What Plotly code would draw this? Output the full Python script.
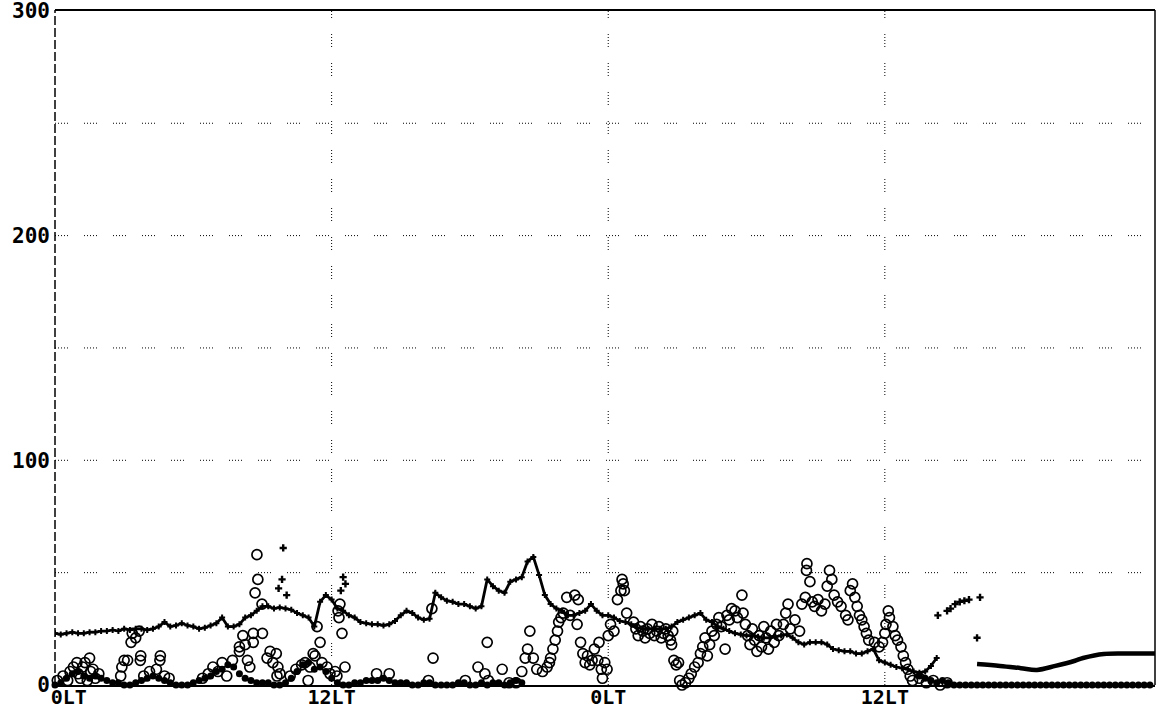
import plotly.graph_objects as go

# ---- time axis: hours after the first 0 LT, sampled every 15 minutes ----
STEP_H = 0.25

# "+" series: continuous record, 0 LT .. ~38 h (one row per hour, 4 samples each)
cross_values = [
    23, 22.5, 23, 23.5,     # 0 h
    23, 23, 23.5, 23.5,     # 1 h
    24, 24, 24.5, 24,       # 2 h
    25, 24.5, 25, 25,       # 3 h
    24.5, 25, 26, 28,       # 4 h
    26, 26.5, 27.5, 26.5,   # 5 h
    26, 25, 25.5, 26.5,     # 6 h
    27.5, 30, 26, 26,       # 7 h
    27, 30, 31, 33,         # 8 h
    35, 35, 34, 34.5,       # 9 h
    34, 33.5, 32, 31,       # 10 h
    30, 26, 37, 40,         # 11 h
    38, 34, 33, 31,         # 12 h
    30, 28, 27.5, 27,       # 13 h
    27, 26.5, 27, 28.5,     # 14 h
    31, 33, 32, 30,         # 15 h
    29, 29.5, 41, 39,       # 16 h
    37.5, 37, 36, 36,       # 17 h
    35, 34, 35, 47,         # 18 h
    44, 42, 41, 46,         # 19 h
    47, 48, 55, 57,         # 20 h
    49, 40, 36, 34,         # 21 h
    33, 31, 31, 32,         # 22 h
    33, 36, 33, 31,         # 23 h
    31, 30, 28.5, 28,       # 24 h
    27, 25.5, 25, 25,       # 25 h
    25, 25, 25, 26,         # 26 h
    28, 29, 30, 31,         # 27 h
    32, 29, 28, 26,         # 28 h
    25, 24, 23, 22.5,       # 29 h
    22, 22, 21.5, 21,       # 30 h
    21, 21.5, 22, 22.5,     # 31 h
    21, 19, 18, 19,         # 32 h
    19, 19, 18, 16,         # 33 h
    15.5, 15, 15, 14,       # 34 h
    14, 15, 16, 11,         # 35 h
    10, 9, 8, 7.5,          # 36 h
    7, 6, 5.5, 6,           # 37 h
    8.5, 12,                # 38 h
]
cross_hours = [i * STEP_H for i in range(len(cross_values))]

# isolated "+" samples off the main trace
cross_extra_hours = [9.7, 9.85, 9.9, 10.05, 12.4, 12.5, 12.6,
                     38.3, 38.7, 38.85, 39.05, 39.25, 39.45, 39.65, 40.0, 40.13]
cross_extra_values = [43, 47, 61, 40, 42, 48, 45,
                      31, 33, 34, 36, 37, 37.5, 38, 21, 39]

# smoothed tail after the record ends
tail_hours = [40.0, 41.0, 41.9, 42.6, 43.4, 44.25, 44.6, 45.5, 46.6, 47.6, 47.72]
tail_values = [9.3, 8.5, 7.5, 6.7, 8.5, 10.8, 12, 13.8, 14, 14, 14]

# "o" series, first day (hour, value)
circles_day1 = [
    (0.1, 2), (0.35, 4), (0.55, 2), (0.65, 6), (0.8, 8), (0.95, 10), (1.0, 5),
    (1.1, 3), (1.2, 8), (1.3, 10), (1.4, 2), (1.5, 12), (1.55, 6), (1.65, 7),
    (1.75, 3), (1.9, 5),
    (2.85, 4), (2.9, 8), (3.0, 11), (3.15, 11), (3.3, 19), (3.35, 23), (3.5, 21),
    (3.65, 24), (3.7, 11), (3.72, 13), (3.85, 4), (4.1, 6), (4.4, 7), (4.55, 11),
    (4.57, 13), (4.75, 4), (4.95, 3),
    (6.4, 3), (6.65, 5), (6.85, 8), (7.07, 6), (7.25, 10), (7.45, 4), (7.7, 11),
    (8.0, 15), (8.0, 17), (8.15, 22), (8.25, 18), (8.35, 11), (8.45, 8),
    (8.6, 19), (8.6, 23),
    (8.68, 41), (8.76, 58), (8.8, 47), (8.98, 36), (9.0, 23), (9.2, 12),
    (9.33, 15), (9.45, 10), (9.6, 14), (9.63, 4), (9.67, 8), (9.76, 5),
    (10.2, 4), (10.45, 7), (10.7, 9), (10.85, 10), (10.98, 2), (11.06, 8),
    (11.2, 14), (11.28, 13), (11.37, 26), (11.5, 19), (11.58, 10), (11.8, 8),
    (11.93, 5), (12.15, 6), (12.23, 4), (12.28, 33), (12.32, 30), (12.36, 36),
    (12.45, 23), (12.58, 8),
    (13.95, 5), (14.5, 5),
    (16.2, 2), (16.35, 34), (16.4, 12), (17.8, 2), (18.35, 8), (18.65, 5),
    (18.75, 19), (18.8, 2), (19.4, 7), (19.7, 1), (20.0, 1), (20.25, 6),
    (20.4, 12), (20.5, 16), (20.6, 24), (20.75, 12), (20.9, 7), (21.15, 6),
    (21.35, 8), (21.45, 10), (21.5, 12), (21.6, 16), (21.7, 20), (21.8, 24),
    (21.85, 28), (21.95, 30), (22.05, 32), (22.2, 39), (22.35, 31), (22.55, 40),
    (22.65, 27), (22.7, 38), (22.8, 19), (22.9, 14), (23.0, 10), (23.1, 13),
    (23.2, 9), (23.3, 11), (23.4, 16), (23.55, 11), (23.6, 19), (23.7, 7),
    (23.75, 3), (23.85, 10), (23.95, 7),
]

# "o" series, second day (hour, value)
circles_day2 = [
    (24.0, 22), (24.1, 27), (24.25, 24), (24.4, 38), (24.55, 42), (24.6, 47),
    (24.65, 45), (24.7, 42), (24.8, 32),
    (25.1, 28), (25.2, 25), (25.3, 22), (25.4, 26), (25.5, 24), (25.6, 21),
    (25.7, 25), (25.8, 23), (25.9, 27), (26.0, 22), (26.1, 24), (26.2, 26),
    (26.3, 21), (26.4, 23), (26.5, 25), (26.6, 22), (26.7, 20), (26.75, 18),
    (26.8, 24), (26.85, 11), (26.95, 9), (27.05, 10),
    (27.1, 2), (27.2, 0), (27.35, 1), (27.5, 3), (27.6, 5), (27.75, 8),
    (27.9, 10), (28.0, 14), (28.1, 17), (28.2, 21), (28.3, 13), (28.4, 18),
    (28.5, 24), (28.6, 22), (28.7, 27), (28.8, 30), (28.9, 26), (29.07, 16),
    (29.15, 31), (29.25, 29), (29.35, 34), (29.5, 33), (29.6, 30), (29.8, 40),
    (29.85, 32), (29.95, 27), (30.05, 22), (30.15, 18), (30.25, 25), (30.35, 20),
    (30.45, 15), (30.55, 22), (30.65, 17), (30.75, 26), (30.85, 21), (30.95, 16),
    (31.05, 24), (31.2, 19), (31.3, 27), (31.4, 22),
    (31.6, 27), (31.7, 32), (31.8, 36), (31.9, 25), (32.1, 29), (32.3, 24),
    (32.4, 36), (32.55, 39), (32.6, 51), (32.62, 54), (32.75, 46), (32.85, 37),
    (32.95, 35), (33.1, 38), (33.25, 33), (33.4, 36), (33.5, 44), (33.6, 51),
    (33.7, 47), (33.8, 40), (33.95, 37), (34.1, 35), (34.3, 31), (34.4, 29),
    (34.5, 42), (34.6, 45), (34.7, 39), (34.8, 35), (34.9, 31), (35.0, 29),
    (35.1, 26), (35.2, 23), (35.3, 20), (35.55, 19), (35.75, 17), (35.9, 19),
    (36.0, 23), (36.05, 27), (36.15, 33), (36.2, 30), (36.35, 26), (36.45, 22),
    (36.55, 20), (36.7, 17), (36.8, 13), (36.9, 10), (37.0, 7), (37.1, 4),
    (37.2, 2), (37.5, 3), (37.8, 1), (38.1, 2), (38.4, 0), (38.7, 1),
]

# filled-dot series near the base line (two stretches, 15 min sampling)
filled_start_a = 0.0
filled_values_a = [
    0, 1, 3, 5, 6, 4, 3, 4, 3, 2, 1, 1, 0, 0, 1, 2, 3, 4, 3, 2,
    1, 0, 0, 0, 1, 2, 3, 4, 6, 7, 9, 8, 5, 3, 2, 1, 1, 1, 0, 0,
    1, 3, 6, 9, 10, 7, 8, 6, 3, 1, 0, 0, 1, 1, 2, 2, 2, 3, 2, 1,
    1, 1, 0, 0, 1, 1, 0, 0, 0, 0, 1, 1, 0, 0, 1, 0, 1, 1, 0, 1,
    2, 1,
]
filled_start_b = 37.5
filled_values_b = [
    4, 3, 2, 1, 2, 1, 0, 0, 0, 0, 0, 0, 0, 0, 0, 0, 0, 0, 0, 0,
    0, 0, 0, 0, 0, 0, 0, 0, 0, 0, 0, 0, 0, 0, 0, 0, 0, 0, 0, 0,
    0,
]
filled_hours = ([filled_start_a + i * STEP_H for i in range(len(filled_values_a))]
                + [filled_start_b + i * STEP_H for i in range(len(filled_values_b))])
filled_values = filled_values_a + filled_values_b

# axes, grid and labels
X_MAX = 47.72
Y_MAX = 300
x_tick_vals = [0.6, 12, 24, 36]
x_tick_text = ["0LT", "12LT", "0LT", "12LT"]
y_tick_vals = [0, 100, 200, 300]
y_tick_text = ["0", "100", "200", "300"]
h_grid_levels = [50, 100, 150, 200, 250]
v_grid_hours = [12, 24, 36]

INK = "#000000"
LABEL_FONT = dict(family="DejaVu Sans Mono", size=21, color=INK, weight="bold")
X_LABEL_FONT = dict(family="DejaVu Sans Mono", size=20, color=INK, weight="bold")
DOT_DASH = "1px,2px,1px,2px,1px,2px,1px,2px,1px,16px"

fig = go.Figure()

fig.add_trace(go.Scatter(
    x=filled_hours, y=filled_values, mode="markers",
    marker=dict(symbol="circle", size=7, color=INK),
    cliponaxis=False, hoverinfo="skip",
))

circle_points = circles_day1 + circles_day2
fig.add_trace(go.Scatter(
    x=[p[0] for p in circle_points], y=[p[1] for p in circle_points],
    mode="markers",
    marker=dict(symbol="circle-open", size=10, color=INK, line=dict(width=1.7)),
    cliponaxis=False, hoverinfo="skip",
))

fig.add_trace(go.Scatter(
    x=cross_hours, y=cross_values, mode="lines+markers",
    line=dict(color=INK, width=2.8),
    marker=dict(symbol="cross", size=5, color=INK),
    hoverinfo="skip",
))

fig.add_trace(go.Scatter(
    x=cross_extra_hours, y=cross_extra_values, mode="markers",
    marker=dict(symbol="cross", size=6, color=INK),
    hoverinfo="skip",
))

fig.add_trace(go.Scatter(
    x=tail_hours, y=tail_values, mode="lines",
    line=dict(color=INK, width=4.5, shape="spline"),
    hoverinfo="skip",
))

shapes = []
for lvl in h_grid_levels:
    shapes.append(dict(type="line", xref="x", yref="y", x0=0, x1=X_MAX, y0=lvl, y1=lvl,
                       line=dict(color=INK, width=1, dash=DOT_DASH), layer="below"))
for hr in v_grid_hours:
    shapes.append(dict(type="line", xref="x", yref="y", x0=hr, x1=hr, y0=0, y1=Y_MAX,
                       line=dict(color=INK, width=1, dash=DOT_DASH), layer="below"))
# frame: dashed left axis, solid top and right edges
shapes.append(dict(type="line", xref="paper", yref="paper", x0=0, x1=0, y0=0, y1=1,
                   line=dict(color=INK, width=1.5, dash="9px,3px")))
shapes.append(dict(type="line", xref="paper", yref="paper", x0=0, x1=1, y0=1, y1=1,
                   line=dict(color=INK, width=2)))
shapes.append(dict(type="line", xref="paper", yref="paper", x0=1, x1=1, y0=0, y1=1,
                   line=dict(color=INK, width=1.5)))

fig.update_layout(
    width=1161, height=715,
    margin=dict(l=55, r=6, t=10, b=30, autoexpand=False),
    paper_bgcolor="white", plot_bgcolor="white",
    showlegend=False,
    shapes=shapes,
    xaxis=dict(range=[0, X_MAX], tickmode="array", tickvals=x_tick_vals,
               ticktext=x_tick_text, showgrid=False, zeroline=False,
               showline=True, linecolor=INK, linewidth=2, ticks="",
               tickfont=X_LABEL_FONT, ticklabelstandoff=-7, automargin=False,
               ticklabeloverflow="allow"),
    yaxis=dict(range=[0, Y_MAX + 0.4], tickmode="array", tickvals=y_tick_vals,
               ticktext=y_tick_text, showgrid=False, zeroline=False,
               showline=False, ticks="", tickfont=LABEL_FONT,
               ticklabelstandoff=4, automargin=False,
               ticklabeloverflow="allow"),
)

fig.write_html("out.html")
